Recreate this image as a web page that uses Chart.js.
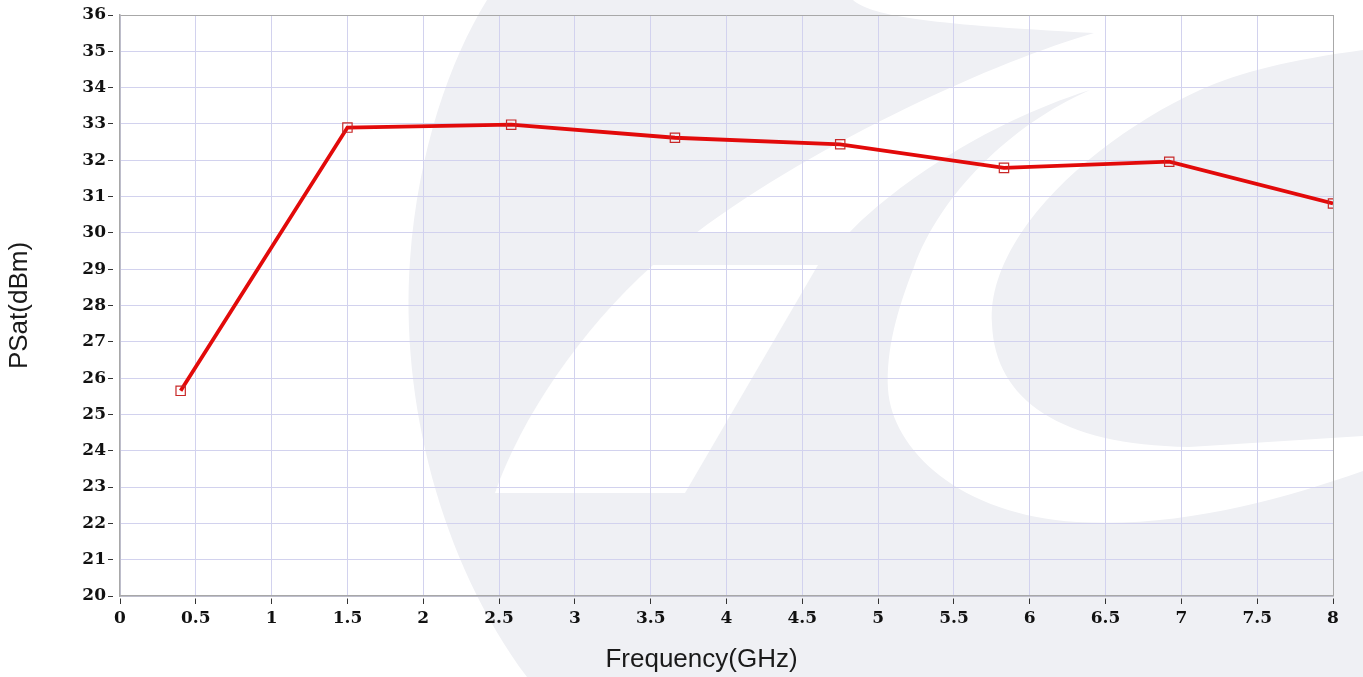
<!DOCTYPE html>
<html>
<head>
<meta charset="utf-8">
<script src="https://cdn.jsdelivr.net/npm/chart.js@4/dist/chart.umd.min.js"></script>
<style>
  html, body { margin: 0; padding: 0; background: #ffffff; }
  #wrap { width: 1363px; height: 677px; position: relative; }
</style>
</head>
<body>
<div id="wrap"><canvas id="c"></canvas></div>
<script>
// ---- data ----
const frequencies = [0.4, 1.5, 2.58, 3.66, 4.75, 5.83, 6.92, 8.0];   // GHz
const psatValues  = [25.65, 32.9, 32.98, 32.62, 32.44, 31.79, 31.96, 30.81]; // dBm
const xTitle = 'Frequency(GHz)';
const yTitle = 'PSat(dBm)';
const xMin = 0, xMax = 8, xStep = 0.5;
const yMin = 20, yMax = 36, yStep = 1;

// faint watermark logo behind the chart
const watermark = {
  id: 'watermark',
  beforeDraw(chart) {
    const ctx = chart.ctx;
    ctx.save();
    ctx.fillStyle = '#eff0f4';
    ctx.beginPath();
    ctx.moveTo(487, 0);
    ctx.lineTo(853, 0);
    ctx.bezierCurveTo(870, 15, 920, 24, 1094, 33);
    ctx.bezierCurveTo(1000, 60, 820, 140, 696, 233);
    ctx.lineTo(849, 233);
    ctx.bezierCurveTo(890, 190, 980, 125, 1090, 90);
    ctx.bezierCurveTo(1010, 125, 940, 195, 914, 267);
    ctx.bezierCurveTo(897, 310, 886, 350, 888, 389);
    ctx.bezierCurveTo(892, 450, 960, 515, 1077, 522);
    ctx.bezierCurveTo(1180, 528, 1280, 500, 1363, 471);
    ctx.lineTo(1363, 677);
    ctx.lineTo(527, 677);
    ctx.bezierCurveTo(440, 560, 400, 400, 410, 260);
    ctx.bezierCurveTo(418, 150, 450, 60, 487, 0);
    ctx.closePath();
    ctx.fill();
    // right "C" body
    ctx.beginPath();
    ctx.moveTo(1363, 50);
    ctx.bezierCurveTo(1290, 60, 1240, 72, 1200, 90);
    ctx.bezierCurveTo(1130, 122, 1060, 175, 1021, 233);
    ctx.bezierCurveTo(1000, 265, 990, 295, 992, 324);
    ctx.bezierCurveTo(995, 400, 1060, 445, 1189, 447);
    ctx.lineTo(1363, 436);
    ctx.closePath();
    ctx.fill();
    // white parallelogram
    ctx.fillStyle = '#ffffff';
    ctx.beginPath();
    ctx.moveTo(653, 265);
    ctx.lineTo(818, 265);
    ctx.lineTo(685, 493);
    ctx.lineTo(495, 493);
    ctx.bezierCurveTo(520, 420, 580, 330, 653, 265);
    ctx.closePath();
    ctx.fill();
    ctx.restore();
  }
};

// x-axis title, centred a little left of the plot centre as in the original
const xTitlePlugin = {
  id: 'xTitlePlugin',
  afterDraw(chart) {
    const ctx = chart.ctx, a = chart.chartArea;
    ctx.save();
    ctx.font = '26px "Liberation Sans", Arial, sans-serif';
    ctx.fillStyle = '#1a1a1a';
    ctx.textAlign = 'center';
    ctx.textBaseline = 'middle';
    ctx.fillText(xTitle, (a.left + a.right) / 2 - 25, chart.height - 17);
    ctx.restore();
  }
};

const tickFont = { family: '"DejaVu Serif", serif', size: 17, weight: 'bold' };
const titleFont = { family: '"Liberation Sans", Arial, sans-serif', size: 26 };
const gridColor = '#d2d2ee';
const edgeColor = '#a8a8a8';

new Chart(document.getElementById('c'), {
  type: 'line',
  data: {
    datasets: [{
      data: frequencies.map((f, i) => ({ x: f, y: psatValues[i] })),
      borderColor: '#e20a0a',
      borderWidth: 3.8,
      pointStyle: 'rect',
      pointRadius: 6.6,
      pointBorderWidth: 1.2,
      pointBorderColor: '#c82828',
      pointBackgroundColor: 'rgba(0,0,0,0)',
      tension: 0,
      fill: false
    }]
  },
  options: {
    responsive: true,
    maintainAspectRatio: false,
    animation: false,
    layout: { padding: { top: 15, right: 30, bottom: 0, left: 0 } },
    plugins: { legend: { display: false }, tooltip: { enabled: false } },
    scales: {
      x: {
        type: 'linear',
        min: xMin, max: xMax,
        ticks: { stepSize: xStep, color: '#111', font: tickFont, padding: 4, maxRotation: 0,
                 callback: v => String(v) },
        grid: {
          color: ctx => (ctx.tick && ctx.tick.value === xMax) ? edgeColor : gridColor,
          lineWidth: 1,
          tickLength: 8,
          tickColor: '#333',
          tickBorderDash: [0, 2, 6, 20]
        },
        border: { color: edgeColor, width: 1.5 },
        title: { display: false, text: xTitle },
        afterFit: s => { s.height = 81; }
      },
      y: {
        type: 'linear',
        min: yMin, max: yMax,
        ticks: { stepSize: yStep, color: '#111', font: tickFont, padding: 2,
                 callback: v => String(v) },
        grid: {
          color: ctx => (ctx.tick && ctx.tick.value === yMax) ? edgeColor : gridColor,
          lineWidth: 1,
          tickLength: 12,
          tickColor: '#333',
          tickBorderDash: [5, 30]
        },
        border: { color: edgeColor, width: 1.5 },
        title: { display: true, text: yTitle, font: titleFont, color: '#1a1a1a', padding: { top: 4, bottom: 0 } },
        afterFit: s => { s.width = 120; }
      }
    }
  },
  plugins: [watermark, xTitlePlugin]
});
</script>
</body>
</html>
